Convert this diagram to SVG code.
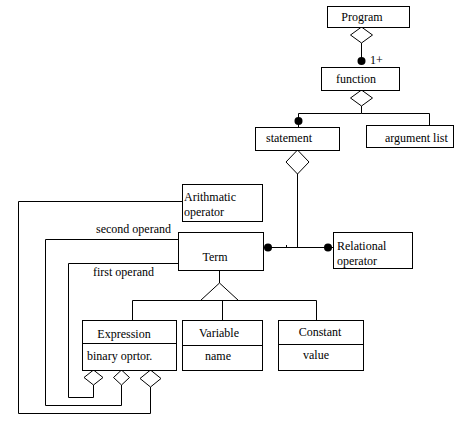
<svg xmlns="http://www.w3.org/2000/svg" width="460" height="423" viewBox="0 0 460 423">
<style>
.box{fill:#fff;stroke:#000;stroke-width:1}
.ln{fill:none;stroke:#000;stroke-width:1}
.dm{fill:#fff;stroke:#000;stroke-width:1}
.dot{fill:#000}
.t{font-size:12px;fill:#000}
.c{text-anchor:middle}
</style>
<rect width="460" height="423" fill="#fff"/>
<g id="connectors">
<line class="ln" x1="361.5" y1="43" x2="361.5" y2="61"/>
<circle class="dot" cx="361.5" cy="61" r="4"/>
<polyline class="ln" points="361.5,106 361.5,113.5 298.5,113.5 298.5,127"/>
<polyline class="ln" points="361.5,113.5 429.5,113.5 429.5,125"/>
<circle class="dot" cx="298.5" cy="121" r="4"/>
<line class="ln" x1="297.5" y1="174" x2="297.5" y2="247.5"/>
<line class="ln" x1="263" y1="247.5" x2="333" y2="247.5"/>
<circle class="dot" cx="268" cy="247.5" r="4"/>
<circle class="dot" cx="328" cy="247.5" r="4"/>
<line class="ln" x1="286.5" y1="245" x2="286.5" y2="248"/>
<line class="ln" x1="219.5" y1="270" x2="219.5" y2="283"/>
<polygon class="dm" points="219.5,283 238.5,300.5 200.5,300.5"/>
<polyline class="ln" points="132.5,320 132.5,300.5 316.5,300.5 316.5,320"/>
<line class="ln" x1="222.5" y1="300.5" x2="222.5" y2="320"/>
<polyline class="ln" points="93.5,385 93.5,397.5 68.5,397.5 68.5,263.5 178,263.5"/>
<polyline class="ln" points="121.5,385 121.5,405.5 45.5,405.5 45.5,239.5 178,239.5"/>
<polyline class="ln" points="150.5,387 150.5,413.5 18.5,413.5 18.5,201.5 182,201.5"/>
<polygon class="dm" points="361.5,27 372.5,35 361.5,43 350.5,35"/>
<polygon class="dm" points="361.5,90 372.5,98 361.5,106 350.5,98"/>
<polygon class="dm" points="297.5,150 309,162 297.5,174 286,162"/>
<polygon class="dm" points="93.5,370 103,377.5 93.5,385 84,377.5"/>
<polygon class="dm" points="121.5,370 129.5,377.5 121.5,385 113.5,377.5"/>
<polygon class="dm" points="150.5,370 161,378.5 150.5,387 140,378.5"/>
</g>
<g font-family="Liberation Serif, DejaVu Serif, Times New Roman, serif">
<g id="labels">
<text class="t" x="370" y="64">1+</text>
<text class="t" x="96" y="233">second operand</text>
<text class="t" x="93" y="276">first operand</text>
</g>
<g id="program"><rect class="box" x="327.5" y="6.5" width="82" height="21"/><text class="t c" x="362" y="21">Program</text></g>
<g id="function"><rect class="box" x="321.5" y="67.5" width="78" height="23"/><text class="t c" x="356" y="83">function</text></g>
<g id="statement"><rect class="box" x="255.5" y="127.5" width="84" height="23"/><text class="t c" x="289" y="142">statement</text></g>
<g id="argument-list"><rect class="box" x="366.5" y="125.5" width="87" height="22"/><text class="t" x="385" y="142">argument list</text></g>
<g id="arithmatic-operator"><rect class="box" x="182.5" y="184.5" width="80" height="37"/><text class="t" x="184" y="201">Arithmatic</text><text class="t" x="184" y="216">operator</text></g>
<g id="term"><rect class="box" x="178.5" y="232.5" width="85" height="38"/><text class="t c" x="215" y="261">Term</text></g>
<g id="relational-operator"><rect class="box" x="333.5" y="232.5" width="79" height="36"/><text class="t" x="337" y="250">Relational</text><text class="t" x="337" y="265">operator</text></g>
<g id="expression"><rect class="box" x="82.5" y="320.5" width="94" height="50"/><line class="ln" x1="82.5" y1="343.5" x2="176.5" y2="343.5"/><text class="t c" x="124" y="338">Expression</text><text class="t" x="87" y="360">binary oprtor.</text></g>
<g id="variable"><rect class="box" x="182.5" y="320.5" width="80" height="50"/><line class="ln" x1="182.5" y1="345.5" x2="262.5" y2="345.5"/><text class="t c" x="219" y="337">Variable</text><text class="t" x="205" y="360">name</text></g>
<g id="constant"><rect class="box" x="278.5" y="320.5" width="85" height="50"/><line class="ln" x1="278.5" y1="344.5" x2="363.5" y2="344.5"/><text class="t c" x="320" y="336">Constant</text><text class="t" x="303" y="359">value</text></g>
</g>
</svg>
